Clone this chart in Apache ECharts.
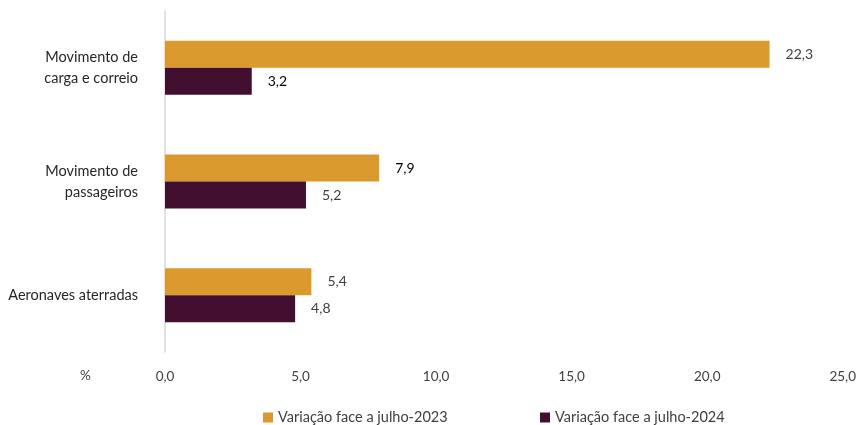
<!DOCTYPE html>
<html>
<head>
<meta charset="utf-8">
<script src="https://cdn.jsdelivr.net/npm/echarts@6/dist/echarts.min.js"></script>
<style>html,body{margin:0;padding:0;background:#fff}#c{width:859px;height:425px}</style>
</head>
<body>
<div id="c"></div>
<script>
var categories = ['Movimento de\ncarga e correio', 'Movimento de\npassageiros', 'Aeronaves aterradas'];
var seriesNames = ['Variação face a julho-2023', 'Variação face a julho-2024'];
var values2023 = [22.3, 7.9, 5.4];
var values2024 = [3.2, 5.2, 4.8];
var xTicks = [0, 5, 10, 15, 20, 25];

var FONT = 'Lato, "Open Sans", sans-serif';
var labelDark = [[false, true, false], [true, false, false]];

function items(vals, si) {
  return vals.map(function (v, i) {
    return { value: v, label: { color: labelDark[si][i] ? '#000000' : '#404040' } };
  });
}

var chart = echarts.init(document.getElementById('c'), null, { renderer: 'canvas' });
chart.setOption({
  animation: false,
  textStyle: { fontFamily: FONT },
  grid: { left: 165, right: 14, top: 11, bottom: 73, containLabel: false },
  xAxis: {
    type: 'value', min: xTicks[0], max: xTicks[xTicks.length - 1], interval: 5,
    axisLine: { show: false }, axisTick: { show: false }, splitLine: { show: false },
    axisLabel: { color: '#404040', fontSize: 13.5, fontFamily: FONT, margin: 18,
      formatter: function (v) { return v.toFixed(1).replace('.', ','); } }
  },
  yAxis: {
    type: 'category', inverse: true, data: categories,
    axisLine: { show: true, lineStyle: { color: '#d9d9d9', width: 1.5 } },
    axisTick: { show: false },
    axisLabel: { color: '#262626', fontSize: 14.5, fontFamily: FONT, margin: 27, lineHeight: 21, align: 'right' }
  },
  legend: [
    { data: [seriesNames[0]], left: 258, top: 405, itemWidth: 10, itemHeight: 10,
      textStyle: { color: '#404040', fontSize: 14.5, fontFamily: FONT }, icon: 'rect' },
    { data: [seriesNames[1]], left: 535, top: 405, itemWidth: 10, itemHeight: 10,
      textStyle: { color: '#404040', fontSize: 14.5, fontFamily: FONT }, icon: 'rect' }
  ],
  graphic: [{ type: 'text', left: 80, top: 369, style: { text: '%', fill: '#404040', font: '13.5px ' + FONT } }],
  series: [
    { name: seriesNames[0], type: 'bar', data: items(values2023, 0), barWidth: 27, barGap: '0%',
      itemStyle: { color: '#DA9A2E' },
      label: { show: true, position: 'right', distance: 16, fontSize: 14, fontFamily: FONT,
        formatter: function (p) { return p.value.toFixed(1).replace('.', ','); } } },
    { name: seriesNames[1], type: 'bar', data: items(values2024, 1), barWidth: 27, barGap: '0%',
      itemStyle: { color: '#420F30' },
      label: { show: true, position: 'right', distance: 16, fontSize: 14, fontFamily: FONT,
        formatter: function (p) { return p.value.toFixed(1).replace('.', ','); } } }
  ]
});
</script>
</body>
</html>
